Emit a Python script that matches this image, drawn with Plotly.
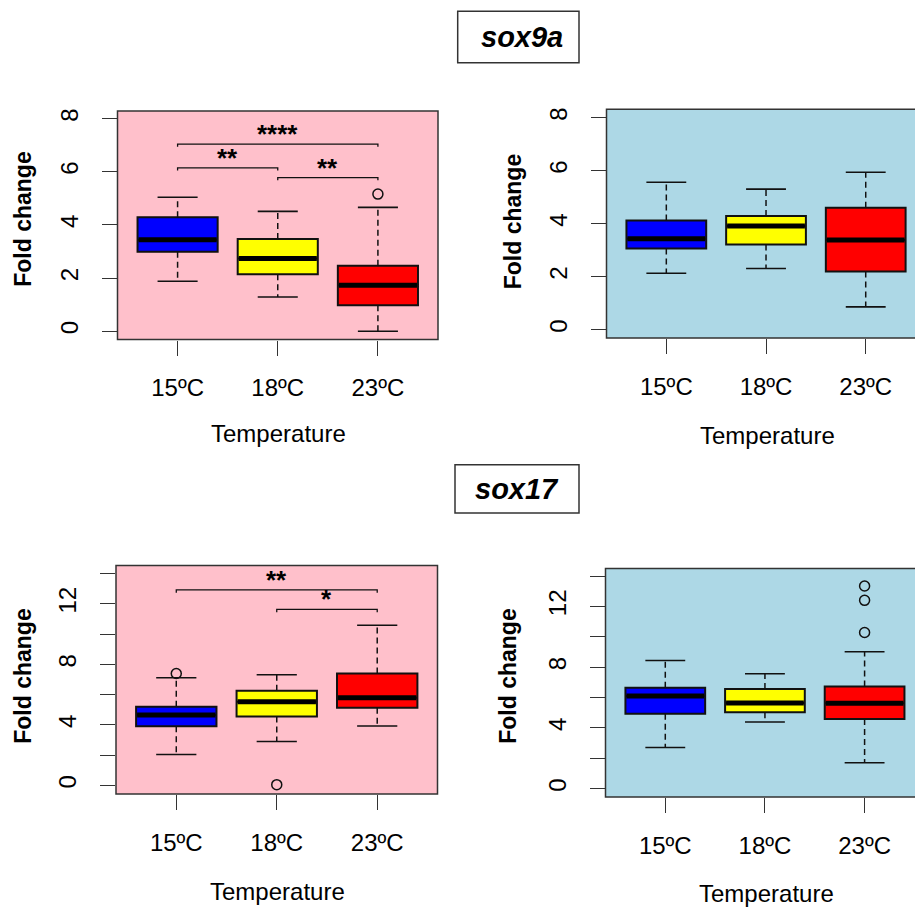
import plotly.graph_objects as go

W, H = 915, 907

# ---------------- data ----------------
categories = ["15ºC", "18ºC", "23ºC"]
box_colors = ["#0000FF", "#FFFF00", "#FF0000"]

# each stat list: [15ºC, 18ºC, 23ºC]
sox9a_left_low = [1.88, 1.29, 0.00]
sox9a_left_q1 = [2.99, 2.14, 0.98]
sox9a_left_med = [3.44, 2.74, 1.73]
sox9a_left_q3 = [4.29, 3.47, 2.46]
sox9a_left_high = [5.04, 4.51, 4.66]
sox9a_left_out = [[], [], [5.16]]

sox9a_right_low = [2.13, 2.31, 0.86]
sox9a_right_q1 = [3.06, 3.21, 2.19]
sox9a_right_med = [3.43, 3.91, 3.38]
sox9a_right_q3 = [4.12, 4.29, 4.60]
sox9a_right_high = [5.56, 5.30, 5.94]
sox9a_right_out = [[], [], []]

sox17_left_low = [2.04, 2.90, 3.93]
sox17_left_q1 = [3.91, 4.56, 5.13]
sox17_left_med = [4.65, 5.53, 5.79]
sox17_left_q3 = [5.20, 6.25, 7.39]
sox17_left_high = [7.11, 7.31, 10.58]
sox17_left_out = [[7.39], [0.05], []]

sox17_right_low = [2.71, 4.39, 1.71]
sox17_right_q1 = [4.94, 5.03, 4.59]
sox17_right_med = [6.10, 5.64, 5.62]
sox17_right_q3 = [6.65, 6.56, 6.73]
sox17_right_high = [8.44, 7.57, 9.01]
sox17_right_out = [[], [], [10.28, 12.40, 13.34]]

# significance brackets: (from group, to group, height, label)
sox9a_sig = [(1, 3, 7.04, "****"), (1, 2, 6.15, "**"), (2, 3, 5.78, "**")]
sox17_sig = [(1, 3, 12.92, "**"), (2, 3, 11.63, "*")]

sox9a_ticks = [0, 2, 4, 6, 8]
sox9a_ticktext = ["0", "2", "4", "6", "8"]
sox17_ticks = [0, 2, 4, 6, 8, 10, 12, 14]
sox17_ticktext = ["0", "", "4", "", "8", "", "12", ""]

# ---------------- layout geometry (pixels) ----------------
FONT = "Liberation Sans, Arial, sans-serif"
PINK = "#FFC0CB"
LBLUE = "#ADD8E6"

panels = [
    dict(name="1", x0=117.5, x1=438, ytop=108.3, ybot=337.7, xr=[0.4, 3.6], yr=[-0.315, 8.29],
         bg=PINK, stats=(sox9a_left_low, sox9a_left_q1, sox9a_left_med, sox9a_left_q3, sox9a_left_high, sox9a_left_out),
         ticks=sox9a_ticks, ticktext=sox9a_ticktext, sig=sox9a_sig, drop=0.1,
         fold=(23, 217.5), temp=(278, 432)),
    dict(name="2", x0=606.5, x1=915, ytop=106.7, ybot=336, xr=[0.4, 0.4 + 308.5 / 99.7], yr=[-0.31, 8.31],
         bg=LBLUE, stats=(sox9a_right_low, sox9a_right_q1, sox9a_right_med, sox9a_right_q3, sox9a_right_high, sox9a_right_out),
         ticks=sox9a_ticks, ticktext=sox9a_ticktext, sig=[], drop=0.1,
         fold=(513, 220), temp=(767, 434)),
    dict(name="3", x0=116, x1=437.5, ytop=564.3, ybot=793.7, xr=[0.4, 3.6], yr=[-0.57, 14.53],
         bg=PINK, stats=(sox17_left_low, sox17_left_q1, sox17_left_med, sox17_left_q3, sox17_left_high, sox17_left_out),
         ticks=sox17_ticks, ticktext=sox17_ticktext, sig=sox17_sig, drop=0.2,
         fold=(23, 676), temp=(277, 891)),
    dict(name="4", x0=605.5, x1=915, ytop=567.3, ybot=796.7, xr=[0.4, 0.4 + 309.5 / 99.65], yr=[-0.55, 14.50],
         bg=LBLUE, stats=(sox17_right_low, sox17_right_q1, sox17_right_med, sox17_right_q3, sox17_right_high, sox17_right_out),
         ticks=sox17_ticks, ticktext=sox17_ticktext, sig=[], drop=0.2,
         fold=(508, 676), temp=(766, 893)),
]

fig = go.Figure()
shapes = []
annotations = []
xpos = [1, 2, 3]
BOXW = 0.8
CAPW = 0.4

for p in panels:
    n = p["name"]
    xa = "x" if n == "1" else "x" + n
    ya = "y" if n == "1" else "y" + n
    low, q1, med, q3, high, outs = p["stats"]
    for i, x in enumerate(xpos):
        # whiskers (dashed)
        fig.add_trace(go.Scatter(x=[x, x, None, x, x], y=[q3[i], high[i], None, q1[i], low[i]],
                                 mode="lines", line=dict(color="#111", width=1.5, dash="6px,4px"),
                                 xaxis=xa, yaxis=ya, showlegend=False, hoverinfo="skip"))
        # caps
        fig.add_trace(go.Scatter(x=[x - CAPW / 2, x + CAPW / 2, None, x - CAPW / 2, x + CAPW / 2],
                                 y=[high[i], high[i], None, low[i], low[i]],
                                 mode="lines", line=dict(color="#111", width=1.6),
                                 xaxis=xa, yaxis=ya, showlegend=False, hoverinfo="skip"))
        # box
        fig.add_trace(go.Box(x=[x], q1=[q1[i]], median=[med[i]], q3=[q3[i]],
                             lowerfence=[q1[i]], upperfence=[q3[i]], width=BOXW,
                             whiskerwidth=0, fillcolor=box_colors[i],
                             line=dict(color="#111", width=2), boxpoints=False,
                             xaxis=xa, yaxis=ya, showlegend=False, hoverinfo="skip"))
        # thick median
        fig.add_trace(go.Scatter(x=[x - BOXW / 2 + 0.01, x + BOXW / 2 - 0.01], y=[med[i], med[i]],
                                 mode="lines", line=dict(color="#000", width=5),
                                 xaxis=xa, yaxis=ya, showlegend=False, hoverinfo="skip"))
        if outs[i]:
            fig.add_trace(go.Scatter(x=[x] * len(outs[i]), y=outs[i], mode="markers",
                                     marker=dict(symbol="circle-open", size=10, color="#111",
                                                 line=dict(width=1.5, color="#111")),
                                     xaxis=xa, yaxis=ya, showlegend=False, hoverinfo="skip"))
    # significance brackets
    d = p["drop"]
    for a, b, h, lab in p["sig"]:
        fig.add_trace(go.Scatter(x=[a, a, b, b], y=[h - d, h, h, h - d], mode="lines",
                                 line=dict(color="#111", width=1.3),
                                 xaxis=xa, yaxis=ya, showlegend=False, hoverinfo="skip"))
        annotations.append(dict(x=(a + b) / 2, y=h, xref=xa, yref=ya, text="<b>" + lab + "</b>",
                                showarrow=False, yanchor="bottom", yshift=-7,
                                font=dict(family=FONT, size=26, color="#000")))

    dom_x = [p["x0"] / W, min(p["x1"] / W, 1.0)]
    dom_y = [1 - p["ybot"] / H, 1 - p["ytop"] / H]
    axcommon = dict(showgrid=False, zeroline=False, showline=False, ticks="outside",
                    ticklen=15, tickwidth=1.3, tickcolor="#333",
                    tickfont=dict(family=FONT, size=24, color="#000"))
    xkey = "xaxis" if n == "1" else "xaxis" + n
    ykey = "yaxis" if n == "1" else "yaxis" + n
    fig.update_layout(**{
        xkey: dict(domain=dom_x, range=p["xr"], tickmode="array", tickvals=xpos, ticktext=categories,
                   anchor=ya, ticklabelstandoff=12, **axcommon),
        ykey: dict(domain=dom_y, range=p["yr"], tickmode="array", tickvals=p["ticks"], ticktext=p["ticktext"],
                   anchor=xa, tickangle=-90, ticklabelstandoff=14, **axcommon),
    })
    # background + border
    shapes.append(dict(type="rect", xref=xa + " domain", yref=ya + " domain", x0=0, x1=1, y0=0, y1=1,
                       fillcolor=p["bg"], line=dict(width=0), layer="below"))
    bx1 = 1.0 if p["x1"] < W else 1.2
    shapes.append(dict(type="rect", xref=xa + " domain", yref=ya + " domain", x0=0, x1=bx1, y0=0, y1=1,
                       fillcolor="rgba(0,0,0,0)", line=dict(width=1.5, color="#333"), layer="above"))
    fx, fy = p["fold"]
    annotations.append(dict(x=fx / W, y=1 - fy / H, xref="paper", yref="paper", text="<b>Fold change</b>",
                            textangle=-90, showarrow=False, xanchor="center", yanchor="middle",
                            font=dict(family=FONT, size=23, color="#000")))
    tx, ty = p["temp"]
    annotations.append(dict(x=tx / W, y=1 - ty / H, xref="paper", yref="paper", text="Temperature",
                            showarrow=False, xanchor="center", yanchor="middle",
                            font=dict(family=FONT, size=24, color="#000")))

# gene title boxes
titles = [("sox9a", 457.7, 579, 8.3, 60, 522, 34), ("sox17", 455, 579, 463.3, 511.7, 517, 488)]
for t, x0, x1, y0, y1, cx, cy in titles:
    shapes.append(dict(type="rect", xref="paper", yref="paper", x0=x0 / W, x1=x1 / W,
                       y0=1 - y1 / H, y1=1 - y0 / H, line=dict(color="#333", width=1.5),
                       fillcolor="white"))
    annotations.append(dict(x=cx / W, y=1 - cy / H, xref="paper", yref="paper",
                            text="<b><i>" + t + "</i></b>", showarrow=False,
                            xanchor="center", yanchor="middle",
                            font=dict(family=FONT, size=29, color="#000")))

fig.update_layout(width=W, height=H, margin=dict(l=0, r=0, t=0, b=0),
                  paper_bgcolor="white", plot_bgcolor="rgba(0,0,0,0)",
                  shapes=shapes, annotations=annotations, showlegend=False,
                  boxmode="overlay")

fig.write_html("out.html")
